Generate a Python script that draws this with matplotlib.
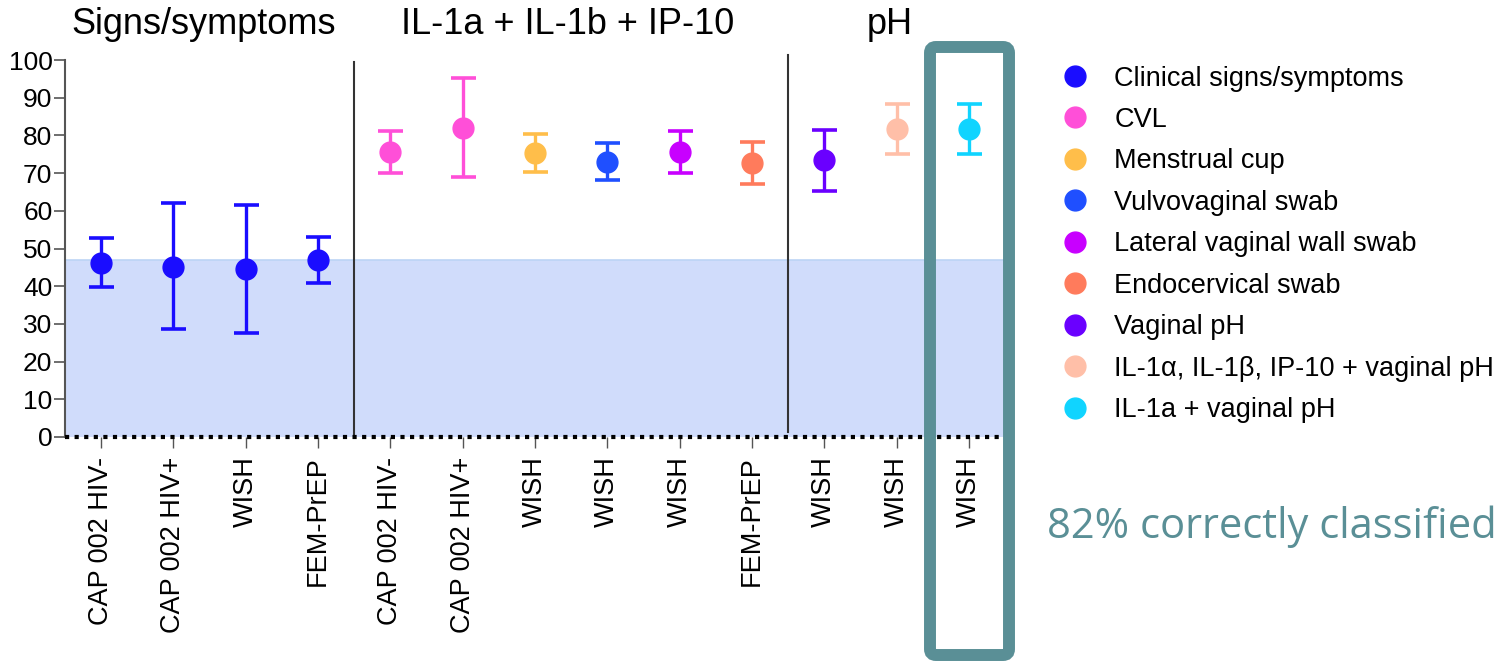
import numpy as np
import matplotlib
matplotlib.use("Agg")
import matplotlib.pyplot as plt
from matplotlib.lines import Line2D
from matplotlib.patches import FancyBboxPatch

plt.rcParams['font.family'] = ['Liberation Sans', 'DejaVu Sans']

# tick labels along the x axis, one per point
labels = ['CAP 002 HIV-', 'CAP 002 HIV+', 'WISH', 'FEM-PrEP',
          'CAP 002 HIV-', 'CAP 002 HIV+', 'WISH', 'WISH', 'WISH', 'FEM-PrEP',
          'WISH', 'WISH', 'WISH']
# percent correctly classified, with lower / upper confidence limits
accuracy = [46.2, 45.2, 44.6, 47.0, 75.7, 82.0, 75.4, 73.0, 75.7, 72.6, 73.5, 81.6, 81.6]
lower = [39.7, 28.6, 27.5, 40.9, 70.1, 68.9, 70.3, 68.1, 70.1, 67.1, 65.2, 75.1, 75.1]
upper = [52.8, 62.0, 61.6, 53.0, 81.2, 95.2, 80.4, 78.1, 81.2, 78.3, 81.4, 88.3, 88.3]
# which legend group each point belongs to
group = [0, 0, 0, 0, 1, 1, 2, 3, 4, 5, 6, 7, 8]

group_names = ['Clinical signs/symptoms', 'CVL', 'Menstrual cup', 'Vulvovaginal swab',
               'Lateral vaginal wall swab', 'Endocervical swab', 'Vaginal pH',
               'IL-1\u03b1, IL-1\u03b2, IP-10 + vaginal pH', 'IL-1a + vaginal pH']
group_colors = ['#1a0dff', '#ff4fd8', '#ffbe4a', '#1f4fff', '#c800ff',
                '#ff7b5c', '#6a00ff', '#ffbfa8', '#10d4ff']

section_titles = ['Signs/symptoms', 'IL-1a + IL-1b + IP-10', 'pH']
baseline_level = 47.0  # shaded region (no-information rate)

fig = plt.figure(figsize=(15.01, 6.61), dpi=100)
ax = fig.add_axes([65 / 1501, 1 - 437 / 661, 940 / 1501, 377 / 661])

x = np.arange(len(labels))
acc = np.array(accuracy)
err = np.vstack([acc - np.array(lower), np.array(upper) - acc])

ax.axhspan(0, baseline_level, color='#d0dcfb', lw=0, zorder=0)
ax.axhline(baseline_level, color='#bcd4f5', lw=1.2, zorder=0.5)

for i in x:
    c = group_colors[group[i]]
    ax.errorbar(x[i], acc[i], yerr=err[:, i:i + 1], fmt='o', color=c,
                markersize=15, elinewidth=2.4, capsize=9, capthick=2.6, zorder=3)

# section separators
ax.plot([3.5, 3.5], [0, 99.5], color='#333333', lw=1.5, zorder=1)
ax.plot([9.5, 9.5], [1.3, 101.3], color='#333333', lw=1.5, zorder=1, clip_on=False)

# dotted zero line
ax.axhline(0, color='black', lw=3, ls=(0, (1, 1.3)), zorder=4, clip_on=False)

ax.set_xlim(-0.5, 12.5)
ax.set_ylim(0, 100)
ax.set_yticks(range(0, 101, 10))
ax.set_xticks(x)
ax.set_xticklabels(labels, rotation=90, fontsize=19.5)
ax.tick_params(axis='y', labelsize=19, length=8, width=1.2, color='#555555', pad=1)
ax.tick_params(axis='x', length=8, width=1, color='#555555', pad=6)
for side in ['top', 'right', 'bottom']:
    ax.spines[side].set_visible(False)
ax.spines['left'].set_color('#555555')
ax.spines['left'].set_linewidth(1.5)

fig.text(204 / 1501, 1 - 25 / 661, section_titles[0], fontsize=26, ha='center', va='center')
fig.text(568 / 1501, 1 - 25 / 661, section_titles[1], fontsize=26, ha='center', va='center')
fig.text(890 / 1501, 1 - 25 / 661, section_titles[2], fontsize=26, ha='center', va='center')

handles = [Line2D([], [], ls='none', marker='o', markersize=15, color=c) for c in group_colors]
fig.legend(handles, group_names, loc='upper left', bbox_to_anchor=(1048 / 1501, 1 - 52 / 661),
           frameon=False, fontsize=19.5, handlelength=1.0, handletextpad=0.95,
           labelspacing=0.57, borderpad=0)

# highlight box around the best model
box = FancyBboxPatch((930, 6), 79, 608, boxstyle='round,pad=0,rounding_size=6',
                     transform=None, fill=False, edgecolor='#5a8f96', lw=8.6, zorder=10)
fig.patches.append(box)

fig.text(1047 / 1501, 1 - 527 / 661, '82% correctly classified', fontsize=30,
         family='Open Sans', color='#5a8f96', ha='left', va='center')

fig.savefig('out.png', dpi=100)
